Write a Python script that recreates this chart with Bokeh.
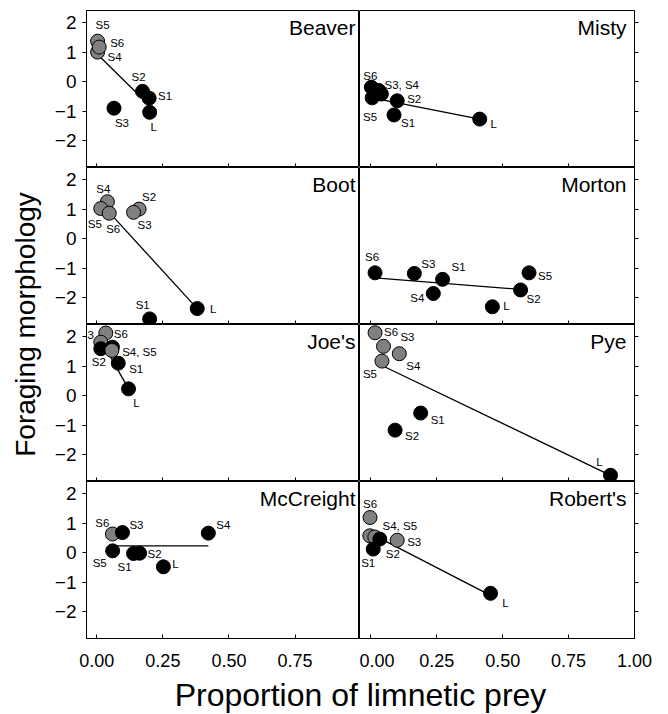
import math
from bokeh.plotting import figure
from bokeh.models import (ColumnDataSource, Label, LabelSet, FixedTicker, Range1d,
                          NumeralTickFormatter, CustomLabelingPolicy)
from bokeh.layouts import row, column, gridplot
from bokeh.embed import file_html
from bokeh.resources import INLINE
from bokeh.core.properties import value

FONT = "Liberation Sans"
GRAY = "#808080"

# ---- data: proportion of limnetic prey (x) vs foraging morphology (y) per lake ----
# stage: S1..S6 = size classes, L = limnetic; fill "g" = grey symbol, "b" = black symbol
# tag = text printed next to the symbol ("" where a shared tag covers two symbols)
beaver_stage = ["S5", "S4", "S6", "S3", "S2", "S1", "L"]
beaver_tag = ["S5", "S4", "S6", "S3", "S2", "S1", "L"]
beaver_x = [0.003, 0.003, 0.009, 0.065, 0.173, 0.198, 0.200]
beaver_y = [1.37, 1.00, 1.17, -0.90, -0.33, -0.56, -1.04]
beaver_fill = ["g", "g", "g", "b", "b", "b", "b"]
beaver_fit_x = [0.005, 0.200]
beaver_fit_y = [0.90, -0.82]

misty_stage = ["S6", "S3", "S4", "S5", "S2", "S1", "L"]
misty_tag = ["S6", "S3, S4", "", "S5", "S2", "S1", "L"]
misty_x = [0.002, 0.030, 0.040, 0.005, 0.100, 0.088, 0.413]
misty_y = [-0.19, -0.30, -0.42, -0.55, -0.65, -1.13, -1.27]
misty_fill = ["b", "b", "b", "b", "b", "b", "b"]
misty_fit_x = [0.000, 0.413]
misty_fit_y = [-0.54, -1.27]

boot_stage = ["S4", "S5", "S6", "S2", "S3", "S1", "L"]
boot_tag = ["S4", "S5", "S6", "S2", "S3", "S1", "L"]
boot_x = [0.040, 0.015, 0.047, 0.160, 0.139, 0.200, 0.380]
boot_y = [1.25, 1.02, 0.86, 1.00, 0.89, -2.72, -2.37]
boot_fill = ["g", "g", "g", "g", "g", "b", "b"]
boot_fit_x = [0.053, 0.380]
boot_fit_y = [0.83, -2.37]

morton_stage = ["S6", "S3", "S1", "S4", "L", "S2", "S5"]
morton_tag = ["S6", "S3", "S1", "S4", "L", "S2", "S5"]
morton_x = [0.016, 0.165, 0.272, 0.237, 0.461, 0.568, 0.600]
morton_y = [-1.16, -1.18, -1.38, -1.86, -2.31, -1.74, -1.16]
morton_fill = ["b", "b", "b", "b", "b", "b", "b"]
morton_fit_x = [0.016, 0.568]
morton_fit_y = [-1.33, -1.72]

joes_stage = ["S6", "S3", "S2", "S4", "S5", "S1", "L"]
joes_tag = ["S6", "S3", "S2", "S4, S5", "", "S1", "L"]
joes_x = [0.034, 0.015, 0.015, 0.059, 0.057, 0.081, 0.120]
joes_y = [2.12, 1.81, 1.59, 1.64, 1.53, 1.10, 0.23]
joes_fill = ["g", "g", "b", "b", "g", "b", "b"]
joes_fit_x = [0.015, 0.120]
joes_fit_y = [1.90, 0.23]

pye_stage = ["S6", "S3", "S4", "S5", "S1", "S2", "L"]
pye_tag = ["S6", "S3", "S4", "S5", "S1", "S2", "L"]
pye_x = [0.016, 0.048, 0.108, 0.042, 0.189, 0.092, 0.909]
pye_y = [2.13, 1.67, 1.42, 1.17, -0.59, -1.17, -2.70]
pye_fill = ["g", "g", "g", "g", "b", "b", "b"]
pye_fit_x = [0.042, 0.909]
pye_fit_y = [1.02, -2.70]

mccreight_stage = ["S6", "S3", "S5", "S1", "S2", "L", "S4"]
mccreight_tag = ["S6", "S3", "S5", "S1", "S2", "L", "S4"]
mccreight_x = [0.059, 0.097, 0.060, 0.139, 0.162, 0.252, 0.422]
mccreight_y = [0.63, 0.68, 0.06, -0.03, -0.02, -0.48, 0.66]
mccreight_fill = ["g", "b", "b", "b", "b", "b", "b"]
mccreight_fit_x = [0.059, 0.422]
mccreight_fit_y = [0.23, 0.23]

roberts_stage = ["S6", "S4", "S5", "S3", "S1", "S2", "L"]
roberts_tag = ["S6", "S4, S5", "", "S3", "S1", "S2", "L"]
roberts_x = [-0.003, -0.004, 0.015, 0.100, 0.009, 0.034, 0.454]
roberts_y = [1.19, 0.57, 0.53, 0.42, 0.12, 0.46, -1.38]
roberts_fill = ["g", "g", "g", "g", "b", "b", "b"]
roberts_fit_x = [0.020, 0.454]
roberts_fit_y = [0.55, -1.45]

y_ticks = [-2, -1, 0, 1, 2]
x_ticks_left = [0.0, 0.25, 0.50, 0.75]
x_ticks_right = [0.0, 0.25, 0.50, 0.75, 1.00]

# ---- tag placement (screen pixel offsets from each symbol, y pointing down) ----
label_offsets = {
    "Beaver": [(5, -16), (17, 5), (18, -4), (8, 15), (-4, -14), (16, -2), (4, 15)],
    "Misty": [(-1, -11), (23, -5), (0, 0), (-2, 19), (17, -2), (14, 8), (14, 5)],
    "Boot": [(-4, -13), (-6, 15), (4, 16), (10, -12), (11, 13), (-7, -14), (16, 0)],
    "Morton": [(-3, -16), (14, -9), (16, -12), (-16, 4), (14, -1), (13, 9), (16, 3)],
    "Joe's": [(15, 1), (-14, -7), (-2, 13), (27, 5), (0, 0), (18, 6), (8, 14)],
    "Pye": [(16, -1), (24, -9), (14, 12), (-12, 13), (17, 7), (17, 6), (-11, -13)],
    "McCreight": [(-10, -11), (14, -8), (-13, 12), (-9, 13), (15, 1), (12, -3), (15, -8)],
    "Robert's": [(0, -14), (30, -10), (0, 0), (17, 2), (-5, 14), (13, 15), (15, 10)],
}

panels = [
    ("Beaver", beaver_tag, beaver_x, beaver_y, beaver_fill, beaver_fit_x, beaver_fit_y),
    ("Misty", misty_tag, misty_x, misty_y, misty_fill, misty_fit_x, misty_fit_y),
    ("Boot", boot_tag, boot_x, boot_y, boot_fill, boot_fit_x, boot_fit_y),
    ("Morton", morton_tag, morton_x, morton_y, morton_fill, morton_fit_x, morton_fit_y),
    ("Joe's", joes_tag, joes_x, joes_y, joes_fill, joes_fit_x, joes_fit_y),
    ("Pye", pye_tag, pye_x, pye_y, pye_fill, pye_fit_x, pye_fit_y),
    ("McCreight", mccreight_tag, mccreight_x, mccreight_y, mccreight_fill,
     mccreight_fit_x, mccreight_fit_y),
    ("Robert's", roberts_tag, roberts_x, roberts_y, roberts_fill, roberts_fit_x, roberts_fit_y),
]

X_LEFT = (-0.039, 0.994)
X_RIGHT = (-0.043, 1.000)
Y_RANGE = (-2.91, 2.41)
FRAME_H = 157

# tick marks only: suppress every tick label on inner axes
NO_LABELS = """
for (let i = 0; i < indices.size; i++) { indices.unset(i) }
return indices
"""


def hide_tick_labels(axis):
    axis.major_label_text_font_size = "0px"
    axis.major_label_standoff = 0
    axis.major_label_policy = CustomLabelingPolicy(code=NO_LABELS)


def make_panel(idx, name, tags, xs, ys, fills, fit_x, fit_y):
    col = idx % 2
    r = idx // 2
    left = col == 0
    xr = X_LEFT if left else X_RIGHT
    p = figure(
        frame_width=273 if left else 275, frame_height=FRAME_H,
        x_range=Range1d(*xr), y_range=Range1d(*Y_RANGE),
        x_axis_location="below", y_axis_location="left" if left else "right",
        output_backend="svg", toolbar_location=None,
        min_border=0,
        min_border_left=36 if left else 0, min_border_right=0 if left else 34,
        min_border_top=10 if r == 0 else 0, min_border_bottom=35 if r == 3 else 0,
        background_fill_color="white", border_fill_color="white",
        outline_line_color="black", outline_line_width=1,
    )
    p.grid.visible = False

    xa = p.xaxis[0]
    xa.ticker = FixedTicker(ticks=x_ticks_left if left else x_ticks_right)
    xa.formatter = NumeralTickFormatter(format="0.00")
    xa.major_tick_in = 4
    xa.major_tick_out = 0
    xa.minor_tick_line_color = None
    xa.axis_line_color = "black"
    xa.major_tick_line_color = "black"
    if r == 3:
        xa.major_label_text_font = FONT
        xa.major_label_text_font_size = "18px"
        xa.major_label_text_color = "black"
        xa.major_label_standoff = 15
    else:
        hide_tick_labels(xa)

    ya = p.yaxis[0]
    ya.ticker = FixedTicker(ticks=y_ticks)
    ya.major_tick_out = 4
    ya.major_tick_in = 0
    ya.minor_tick_line_color = None
    ya.axis_line_color = "black"
    ya.major_tick_line_color = "black"
    if left:
        ya.major_label_text_font = FONT
        ya.major_label_text_font_size = "19px"
        ya.major_label_text_color = "black"
        ya.major_label_standoff = 6
    else:
        hide_tick_labels(ya)

    src = ColumnDataSource(dict(
        x=xs, y=ys, color=[GRAY if f == "g" else "black" for f in fills],
    ))
    p.line(fit_x, fit_y, line_color="black", line_width=1.3)
    p.scatter("x", "y", source=src, size=14, fill_color="color",
              line_color="black", line_width=1)

    # stage tags (shared tags are printed once)
    offs = label_offsets[name]
    keep = [i for i, t in enumerate(tags) if t]
    tag_src = ColumnDataSource(dict(
        x=[xs[i] for i in keep], y=[ys[i] for i in keep], tag=[tags[i] for i in keep],
        dx=[offs[i][0] for i in keep], dy=[-offs[i][1] for i in keep],
    ))
    p.add_layout(LabelSet(
        x="x", y="y", text="tag", source=tag_src, x_offset="dx", y_offset="dy",
        text_font=value(FONT), text_font_size="11.5px", text_color="black",
        text_align="center", text_baseline="middle"))

    p.add_layout(Label(
        x=xr[1], y=Y_RANGE[1], x_offset=-4 if left else -8, y_offset=-5,
        text=name, text_font=FONT, text_font_size="21px", text_color="black",
        text_align="right", text_baseline="top"))
    return p


figs = [make_panel(i, *pan) for i, pan in enumerate(panels)]
grid = gridplot([figs[0:2], figs[2:4], figs[4:6], figs[6:8]], toolbar_location=None)

# shared y-axis title
ylab = figure(frame_width=50, frame_height=714, x_range=Range1d(0, 50), y_range=Range1d(0, 714),
              x_axis_location=None, y_axis_location=None, min_border=0,
              output_backend="svg", toolbar_location=None, outline_line_color=None)
ylab.grid.visible = False
ylab.add_layout(Label(x=25, y=714 - 324, text="Foraging morphology", angle=math.pi / 2,
                      text_font=FONT, text_font_size="28px", text_color="black",
                      text_align="center", text_baseline="middle"))

# shared x-axis title
xlab = figure(frame_width=618, frame_height=41, x_range=Range1d(50, 668), y_range=Range1d(0, 41),
              x_axis_location=None, y_axis_location=None, min_border=0,
              output_backend="svg", toolbar_location=None, outline_line_color=None)
xlab.grid.visible = False
xlab.add_layout(Label(x=360, y=20, text="Proportion of limnetic prey",
                      text_font=FONT, text_font_size="32px", text_color="black",
                      text_align="center", text_baseline="middle"))

layout = row(ylab, column(grid, xlab))

with open("out.html", "w") as f:
    f.write(file_html(layout, INLINE))
